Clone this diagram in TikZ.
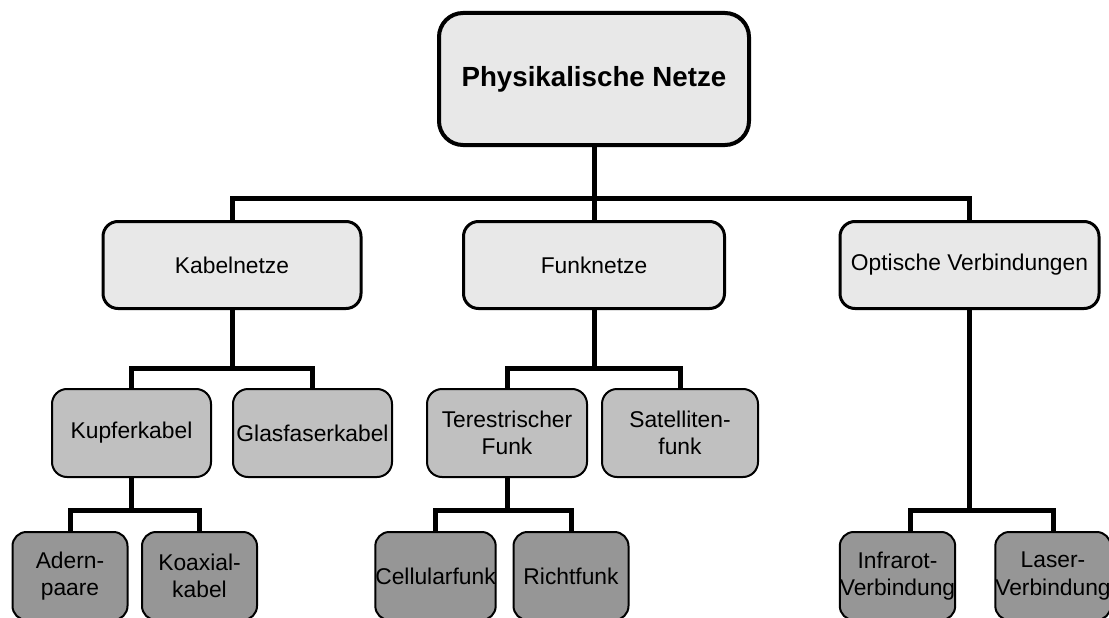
\documentclass[tikz,border=0pt]{standalone}
\usepackage{fontspec}
\setmainfont{Liberation Sans}
\usetikzlibrary{calc}
\definecolor{hell}{RGB}{232,232,232}\definecolor{mittel}{RGB}{192,192,192}\definecolor{dunkel}{RGB}{150,150,150}
\tikzset{every node/.style={font=\fontsize{22.8}{27.5}\selectfont,align=center,inner sep=0pt},
 wurzel/.style={draw,line width=4pt,fill=hell,rounded corners=24pt,minimum width=310pt,minimum height=132pt,font=\fontsize{27.7}{30}\selectfont\bfseries},
 ebeneA/.style={draw,line width=3pt,fill=hell,rounded corners=15pt,minimum height=87pt},
 ebeneB/.style={draw,line width=2pt,fill=mittel,rounded corners=15pt,minimum width=159pt,minimum height=88pt},
 ebeneC/.style={draw,line width=2pt,fill=dunkel,rounded corners=14pt,minimum width=115pt,minimum height=88pt},
 verb/.style={line width=5pt}}

\begin{document}
\begin{tikzpicture}[x=1pt,y=-1pt]
\useasboundingbox (0,0) rectangle (1109,618);\clip (0,0) rectangle (1109,618);
\node[wurzel] (netz) at (594,79) {Physikalische Netze};
\node[ebeneA,minimum width=258pt] (kabel) at (232,265) {Kabelnetze};
\node[ebeneA,minimum width=261pt] (funk) at (594,265) {Funknetze};
\node[ebeneA,minimum width=259pt] (optik) at (969.5,265) {Optische Verbindungen};
\coordinate (b0) at (594,198);\coordinate (b1) at (232,368);\coordinate (b2) at (594,368);
\coordinate (b3) at (131.5,510);\coordinate (b4) at (507,510);\coordinate (b5) at (969.5,510);
\node[ebeneB] (kupfer) at (131.5,433) {Kupferkabel};
\node[ebeneB] (glas) at (312.5,433) {Glasfaserkabel};
\node[ebeneB,minimum width=160pt] (terr) at (507,433) {Terestrischer\\Funk};
\node[ebeneB,minimum width=156pt] (sat) at (680,433) {Satelliten-\\funk};
\node[ebeneC] (adern) at (70,576) {Adern-\\paare};
\node[ebeneC] (koax) at (199.5,576) {Koaxial-\\kabel};
\node[ebeneC] (cell) at (435.5,576) {Cellularfunk};
\node[ebeneC] (richt) at (571,576) {Richtfunk};
\node[ebeneC] (infra) at (897.5,576) {Infrarot-\\Verbindung};
\node[ebeneC] (laser) at (1053,576) {Laser-\\Verbindung};
% Baumlinien
\draw[verb] (netz.south) -- (b0);\draw[verb] (kabel.north) |- (b0) -| (optik.north);\draw[verb] (b0) -- (funk.north);
\draw[verb] (kabel.south) -- (b1);\draw[verb] (kupfer.north) |- (b1) -| (glas.north);
\draw[verb] (funk.south) -- (b2);\draw[verb] (terr.north) |- (b2) -| (sat.north);
\draw[verb] (kupfer.south) -- (b3);\draw[verb] (adern.north) |- (b3) -| (koax.north);
\draw[verb] (terr.south) -- (b4);\draw[verb] (cell.north) |- (b4) -| (richt.north);
\draw[verb] (optik.south) -- (b5);\draw[verb] ($(infra.north)+(13,0)$) |- (b5) -| (laser.north);
\end{tikzpicture}
\end{document}
